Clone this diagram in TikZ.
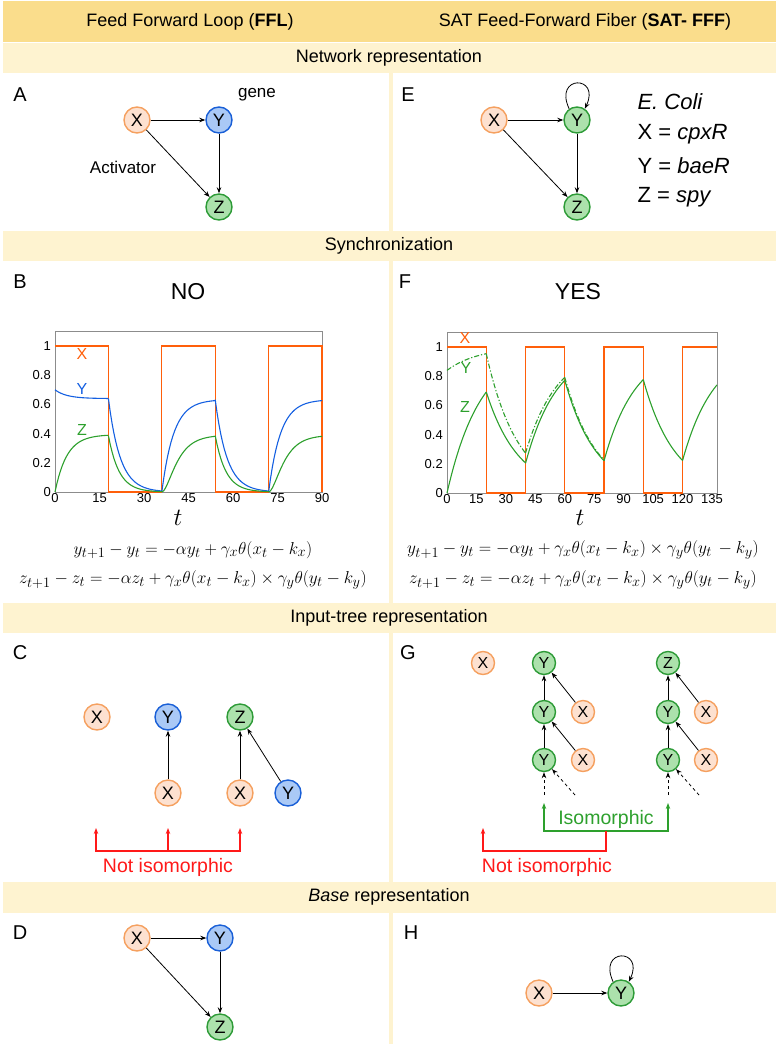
\documentclass[tikz,border=0pt]{standalone}
\usepackage{fontspec}
\setmainfont{Liberation Sans}
\usetikzlibrary{arrows.meta}

\definecolor{hdr}{RGB}{250,221,140}
\definecolor{band}{RGB}{254,243,208}
\definecolor{xfill}{RGB}{253,225,208}
\definecolor{xline}{RGB}{245,160,95}
\definecolor{yfill}{RGB}{170,201,246}
\definecolor{yline}{RGB}{25,95,215}
\definecolor{zfill}{RGB}{172,225,172}
\definecolor{zline}{RGB}{45,155,55}
\definecolor{xcurve}{RGB}{255,95,10}
\definecolor{ycurve}{RGB}{20,95,225}
\definecolor{zcurve}{RGB}{45,160,45}
\definecolor{notiso}{RGB}{255,25,25}
\definecolor{frame}{RGB}{140,140,140}

\newcommand{\fs}[1]{\fontsize{#1}{#1}\selectfont}

\tikzset{
  gnode/.style={circle, line width=1.4pt, minimum size=26pt, inner sep=0pt, font=\fs{18}},
  xnode/.style={gnode, draw=xline, fill=xfill},
  ynode/.style={gnode, draw=yline, fill=yfill},
  znode/.style={gnode, draw=zline, fill=zfill},
  small/.style={minimum size=23pt, font=\fs{16}},
  lnk/.style={-{Stealth[length=6pt,width=4.5pt]}, line width=0.8pt},
  brk/.style={-{Stealth[length=6pt,width=4.5pt]}, line width=1.2pt},
  panel/.style={font=\fs{20}},
  tick/.style={font=\fs{13}, inner sep=1pt},
}

\begin{document}
\begin{tikzpicture}[x=1pt, y=-1pt, font=\fs{18}]
\useasboundingbox (0,0) rectangle (778,1044);

% bands and divider
\fill[band] (389,73) rectangle (393,1044);
\fill[hdr] (3,1) rectangle (776,42);
\fill[band] (3,43) rectangle (776,73);
\fill[band] (3,231) rectangle (776,261);
\fill[band] (3,603) rectangle (776,633);
\fill[band] (3,882) rectangle (776,913);

\node (hl) at (190,22) {Feed Forward Loop (\textbf{FFL})};
\node (hr) at (585,22) {SAT Feed-Forward Fiber (\textbf{SAT- FFF})};
\node (bnet) at (389,58) {Network representation};
\node (bsyn) at (389,246) {Synchronization};
\node (btree) at (389,618) {Input-tree representation};
\node (bbase) at (389,897) {\textit{Base} representation};

% panel A
\node[panel] (la) at (20,95) {A};
\node[xnode] (ax) at (137,120) {X};
\node[ynode] (ay) at (219,120) {Y};
\node[znode] (az) at (219,207) {Z};
\draw[lnk] (ax) -- (ay);
\draw[lnk] (ay) -- (az);
\draw[lnk] (ax) -- (az);
\node[font=\fs{17}] (gene) at (257,95) {gene};
\node[font=\fs{17}] (act) at (123,167) {Activator};

% panel E
\node[panel] (le) at (408,95) {E};
\node[xnode] (ex) at (494,120) {X};
\node[znode] (ey) at (577,120) {Y};
\node[znode] (ez) at (577,207) {Z};
\draw[lnk] (ex) -- (ey);
\draw[lnk] (ey) -- (ez);
\draw[lnk] (ex) -- (ez);
\draw[lnk] (ey.125) .. controls +(-16,-34) and +(16,-34) .. (ey.55);
\node[anchor=west, font=\fs{22}] (eco) at (634,102) {\textit{E. Coli}};
\node[anchor=west, font=\fs{22}] (ecx) at (634,134) {X = \textit{cpxR}};
\node[anchor=west, font=\fs{22}] (ecy) at (634,166) {Y = \textit{baeR}};
\node[anchor=west, font=\fs{22}] (ecz) at (634,197) {Z = \textit{spy}};

% panel B
\node[panel] (lb) at (20,282) {B};
\node[font=\fs{23}] (no) at (188,292) {NO};
\begin{scope}[shift={(55,492)}, x=2.967pt, y=146pt]
  \draw[frame, line width=0.8pt] (0,0) rectangle (90,1.1);
  \draw[xcurve, line width=1.2pt] (0,1) -- (18,1) -- (18,0) -- (36,0) -- (36,1) -- (54,1) -- (54,0) -- (72,0) -- (72,1) -- (90,1) -- (90,0);
  \draw[ycurve, line width=1.1pt] plot[domain=0:18, samples=30] (\x, {0.64+0.06*exp(-\x/4)});
  \draw[ycurve, line width=1.1pt] plot[domain=18:36, samples=30] (\x, {0.64*exp(-(\x-18)/4)});
  \draw[ycurve, line width=1.1pt] plot[domain=36:54, samples=30] (\x, {0.633*(1-exp(-(\x-36)/4))});
  \draw[ycurve, line width=1.1pt] plot[domain=54:72, samples=30] (\x, {0.633*exp(-(\x-54)/4)});
  \draw[ycurve, line width=1.1pt] plot[domain=72:90, samples=30] (\x, {0.633*(1-exp(-(\x-72)/4))});
  \draw[zcurve, line width=1.1pt] plot[domain=0:18, samples=30] (\x, {0.393*(1-exp(-\x/4))});
  \draw[zcurve, line width=1.1pt] plot[domain=18:36, samples=30] (\x, {0.386*exp(-(\x-18)/3.6)});
  \draw[zcurve, line width=1.1pt] plot[domain=36:54, samples=30] (\x, {0.39*(1-exp(-(\x-36)/4))^2});
  \draw[zcurve, line width=1.1pt] plot[domain=54:72, samples=30] (\x, {0.386*exp(-(\x-54)/3.6)});
  \draw[zcurve, line width=1.1pt] plot[domain=72:90, samples=30] (\x, {0.39*(1-exp(-(\x-72)/4))^2});
  \foreach \t in {0,15,...,90}
    \node[tick, anchor=north] (bt\t) at (\t,0) {\t};
  \foreach \v/\s in {0/0,0.2/0.2,0.4/0.4,0.6/0.6,0.8/0.8,1/1}
    \node[tick, anchor=east, xshift=-3pt] (bv\s) at (0,\v) {\s};
\end{scope}
\node[xcurve, font=\fs{16}] (bxl) at (82,354) {X};
\node[ycurve, font=\fs{16}] (byl) at (82,389) {Y};
\node[zcurve, font=\fs{16}] (bzl) at (82,430) {Z};
\node[font=\fs{26}] (bt) at (178,518) {$t$};
\node[font=\fs{19}] (beq1) at (193,550) {$y_{t+1}-y_t=-\alpha y_t+\gamma_x\theta(x_t-k_x)$};
\node[font=\fs{19}] (beq2) at (193,580) {$z_{t+1}-z_t=-\alpha z_t+\gamma_x\theta(x_t-k_x)\times\gamma_y\theta(y_t-k_y)$};

% panel F
\node[panel] (lf) at (405,282) {F};
\node[font=\fs{23}] (yes) at (578,292) {YES};
\begin{scope}[shift={(447,493)}, x=1.963pt, y=146pt]
  \draw[frame, line width=0.8pt] (0,0) rectangle (137.5,1.1);
  \draw[xcurve, line width=1.2pt] (0,1) -- (20,1) -- (20,0) -- (40,0) -- (40,1) -- (60,1) -- (60,0) -- (80,0) -- (80,1) -- (100,1) -- (100,0) -- (120,0) -- (120,1) -- (137.5,1);
  \draw[zcurve, line width=1.1pt, dash pattern=on 5pt off 2pt on 1.2pt off 2pt] plot[domain=0:20, samples=30] (\x, {1-0.16*exp(-\x/16)});
  \draw[zcurve, line width=1.1pt, dash pattern=on 5pt off 2pt on 1.2pt off 2pt] plot[domain=20:40, samples=30] (\x, {0.954*exp(-(\x-20)/16)});
  \draw[zcurve, line width=1.1pt, dash pattern=on 5pt off 2pt on 1.2pt off 2pt] plot[domain=40:60, samples=30] (\x, {1-0.7266*exp(-(\x-40)/16)});
  \draw[zcurve, line width=1.1pt, dash pattern=on 5pt off 2pt on 1.2pt off 2pt] plot[domain=60:80, samples=30] (\x, {0.7918*exp(-(\x-60)/16)});
  \draw[zcurve, line width=1.1pt] plot[domain=0:20, samples=30] (\x, {1-exp(-\x/17)});
  \draw[zcurve, line width=1.1pt] plot[domain=20:40, samples=30] (\x, {0.692*exp(-(\x-20)/16.5)});
  \draw[zcurve, line width=1.1pt] plot[domain=40:60, samples=30] (\x, {1-0.7966*exp(-(\x-40)/16)});
  \draw[zcurve, line width=1.1pt] plot[domain=60:80, samples=30] (\x, {0.7718*exp(-(\x-60)/16)});
  \draw[zcurve, line width=1.1pt] plot[domain=80:100, samples=30] (\x, {1-0.7789*exp(-(\x-80)/16)});
  \draw[zcurve, line width=1.1pt] plot[domain=100:120, samples=30] (\x, {0.7768*exp(-(\x-100)/16)});
  \draw[zcurve, line width=1.1pt] plot[domain=120:137.5, samples=30] (\x, {1-0.7775*exp(-(\x-120)/16)});
  \foreach \t in {0,15,...,135}
    \node[tick, anchor=north] (ft\t) at (\t,0) {\t};
  \foreach \v/\s in {0/0,0.2/0.2,0.4/0.4,0.6/0.6,0.8/0.8,1/1}
    \node[tick, anchor=east, xshift=-3pt] (fv\s) at (0,\v) {\s};
\end{scope}
\node[xcurve, font=\fs{16}] (fxl) at (465,338) {X};
\node[zcurve, font=\fs{16}] (fyl) at (466,368) {Y};
\node[zcurve, font=\fs{16}] (fzl) at (465,407) {Z};
\node[font=\fs{26}] (ftl) at (580,518) {$t$};
\node[font=\fs{19}] (feq1) at (583,550) {$y_{t+1}-y_t=-\alpha y_t+\gamma_x\theta(x_t-k_x)\times\gamma_y\theta(y_t\,-k_y)$};
\node[font=\fs{19}] (feq2) at (583,580) {$z_{t+1}-z_t=-\alpha z_t+\gamma_x\theta(x_t-k_x)\times\gamma_y\theta(y_t-k_y)$};

% panel C
\node[panel] (lc) at (20,653) {C};
\node[xnode] (cx) at (97,717) {X};
\node[ynode] (cy) at (168,717) {Y};
\node[znode] (cz) at (240,717) {Z};
\node[xnode] (cx2) at (168,793) {X};
\node[xnode] (cx3) at (240,793) {X};
\node[ynode] (cy2) at (288,793) {Y};
\draw[lnk] (cx2) -- (cy);
\draw[lnk] (cx3) -- (cz);
\draw[lnk] (cy2) -- (cz);
\coordinate (cl) at (96,851);
\coordinate (cm) at (168,851);
\coordinate (cr) at (240,851);
\coordinate (clt) at (96,828);
\coordinate (cmt) at (168,828);
\coordinate (crt) at (240,828);
\draw[brk, notiso] (cm) -- (cl) -- (clt);
\draw[brk, notiso] (cm) -- (cmt);
\draw[brk, notiso] (cm) -- (cr) -- (crt);
\node[notiso, font=\fs{19.5}] (cni) at (168,867) {Not isomorphic};

% panel G
\node[panel] (lg) at (408,653) {G};
\node[xnode, small] (gx) at (483,663) {X};
\node[znode, small] (gy1) at (544,663) {Y};
\node[znode, small] (gy2) at (544,712) {Y};
\node[znode, small] (gy3) at (544,760) {Y};
\node[xnode, small] (gx2) at (583,712) {X};
\node[xnode, small] (gx3) at (583,760) {X};
\node[znode, small] (gz) at (668,663) {Z};
\node[znode, small] (gw2) at (668,712) {Y};
\node[znode, small] (gw3) at (668,760) {Y};
\node[xnode, small] (gv2) at (706,712) {X};
\node[xnode, small] (gv3) at (706,760) {X};
\draw[lnk] (gy2) -- (gy1);
\draw[lnk] (gx2) -- (gy1);
\draw[lnk] (gy3) -- (gy2);
\draw[lnk] (gx3) -- (gy2);
\draw[lnk] (gw2) -- (gz);
\draw[lnk] (gv2) -- (gz);
\draw[lnk] (gw3) -- (gw2);
\draw[lnk] (gv3) -- (gw2);
\coordinate (gd1) at (544,795);
\coordinate (gd2) at (575,795);
\coordinate (gd3) at (668,795);
\coordinate (gd4) at (699,795);
\draw[lnk, dashed] (gd1) -- (gy3);
\draw[lnk, dashed] (gd2) -- (gy3);
\draw[lnk, dashed] (gd3) -- (gw3);
\draw[lnk, dashed] (gd4) -- (gw3);
\coordinate (gil) at (544,831);
\coordinate (gim) at (606,831);
\coordinate (gir) at (668,831);
\coordinate (gilt) at (544,803);
\coordinate (girt) at (668,803);
\coordinate (gnm) at (606,851);
\coordinate (gnl) at (483,851);
\coordinate (gnlt) at (483,828);
\draw[brk, zcurve] (gim) -- (gil) -- (gilt);
\draw[brk, zcurve] (gim) -- (gir) -- (girt);
\draw[brk, notiso] (gim) -- (gnm) -- (gnl) -- (gnlt);
\node[zcurve, font=\fs{19.5}] (giso) at (606,819) {Isomorphic};
\node[notiso, font=\fs{19.5}] (gni) at (547,867) {Not isomorphic};

% panel D
\node[panel] (ld) at (20,933) {D};
\node[xnode] (dx) at (137,938) {X};
\node[ynode] (dy) at (220,938) {Y};
\node[znode] (dz) at (220,1027) {Z};
\draw[lnk] (dx) -- (dy);
\draw[lnk] (dy) -- (dz);
\draw[lnk] (dx) -- (dz);

% panel H
\node[panel] (lh) at (411,933) {H};
\node[xnode] (hx) at (539,993) {X};
\node[znode] (hy) at (621,993) {Y};
\draw[lnk] (hx) -- (hy);
\draw[lnk] (hy.125) .. controls +(-16,-34) and +(16,-34) .. (hy.55);
\end{tikzpicture}
\end{document}
